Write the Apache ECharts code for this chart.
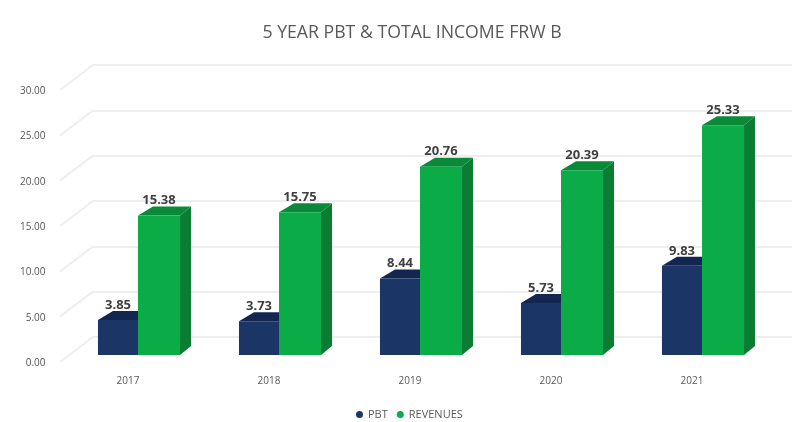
<!DOCTYPE html>
<html>
<head>
<meta charset="utf-8">
<style>html,body{margin:0;padding:0;background:#fff}#chart{width:792px;height:422px}</style>
<script src="https://cdn.jsdelivr.net/npm/echarts@6/dist/echarts.min.js"></script>
</head>
<body>
<div id="chart"></div>
<script>
const years = ['2017', '2018', '2019', '2020', '2021'];
const pbt = [3.85, 3.73, 8.44, 5.73, 9.83];
const revenues = [15.38, 15.75, 20.76, 20.39, 25.33];
const wallTicks = [0, 5, 10, 15, 20, 25, 30];

const FONT = '"Open Sans", "Liberation Sans", sans-serif';
const NAVY = { front: '#1b3567', top: '#12264f', side: '#12264f' };
const GREEN = { front: '#0bac48', top: '#0a8a38', side: '#0a7d33' };

// Draws one extruded column: front face, top face, right-hand side face and value label.
function column(palette, startFrac, endFrac) {
  return function (params, api) {
    const band = api.size([1, 0])[0];
    const value = api.value(1);
    const top = api.coord([api.value(0), value]);
    const base = api.coord([api.value(0), 0]);
    const centre = top[0] + band * 0.078;
    const x0 = centre + band * startFrac;
    const x1 = centre + band * endFrac;
    const y = top[1];
    const by = base[1];
    const dy = 9, dxTop = 15, dxSide = 11;
    return {
      type: 'group',
      children: [
        { type: 'polygon', shape: { points: [[x1, y], [x1 + dxSide, y - dy], [x1 + dxSide, by - dy], [x1, by]] }, style: { fill: palette.side } },
        { type: 'polygon', shape: { points: [[x0, y], [x0 + dxTop, y - dy], [x1 + dxSide, y - dy], [x1, y]] }, style: { fill: palette.top } },
        { type: 'rect', shape: { x: x0, y: y, width: x1 - x0, height: by - y }, style: { fill: palette.front } },
        {
          type: 'text', z2: 50,
          style: {
            x: (x0 + x1) / 2, y: y - 15, text: value.toFixed(2),
            textAlign: 'center', textVerticalAlign: 'middle',
            font: 'bold 13px ' + FONT, fill: '#404040'
          }
        }
      ]
    };
  };
}

// Short receding lines joining each back-wall gridline to the front plane.
function sideWallLine(params, api) {
  const p = api.coord([0, api.value(0)]);
  return {
    type: 'line',
    shape: { x1: p[0], y1: p[1], x2: p[0] - 33, y2: p[1] + 25 },
    style: { stroke: '#efefef', lineWidth: 2 }
  };
}

const chart = echarts.init(document.getElementById('chart'), null, { renderer: 'canvas' });
chart.setOption({
  animation: false,
  backgroundColor: '#ffffff',
  title: {
    text: '5 YEAR PBT & TOTAL INCOME FRW B',
    left: 407, top: 19, textAlign: 'center',
    textStyle: { color: '#595959', fontFamily: FONT, fontSize: 17.7, fontWeight: 'normal' }
  },
  legend: {
    data: ['PBT', 'REVENUES'],
    left: 351, top: 404,
    icon: 'circle', itemWidth: 7, itemHeight: 7, itemGap: 9,
    textStyle: { color: '#595959', fontFamily: FONT, fontSize: 11 }
  },
  // Back wall, front plane of the columns, and the band carrying the value scale.
  grid: [
    { left: 93, right: 0, top: 65, bottom: 85 },
    { left: 57.5, right: 29.5, top: 83, bottom: 67 },
    { left: 57.5, right: 29.5, top: 91, bottom: 59 }
  ],
  xAxis: [
    { gridIndex: 0, type: 'value', min: 0, max: 1, show: false },
    {
      gridIndex: 1, type: 'category', data: years,
      axisLine: { show: false }, axisTick: { show: false },
      axisLabel: { color: '#595959', fontFamily: FONT, fontSize: 10, margin: 21 }
    },
    { gridIndex: 2, type: 'value', min: 0, max: 1, show: false }
  ],
  yAxis: [
    {
      gridIndex: 0, type: 'value', min: 0, max: 30, interval: 5,
      axisLine: { show: false }, axisTick: { show: false }, axisLabel: { show: false },
      splitLine: { show: true, lineStyle: { color: '#eeeeee', width: 2 } }
    },
    {
      gridIndex: 1, type: 'value', min: 0, max: 30, interval: 5,
      axisLine: { show: false }, axisTick: { show: false }, splitLine: { show: false },
      axisLabel: { show: false }
    },
    {
      gridIndex: 2, type: 'value', min: 0, max: 30, interval: 5,
      axisLine: { show: false }, axisTick: { show: false }, splitLine: { show: false },
      axisLabel: {
        color: '#595959', fontFamily: FONT, fontSize: 10, margin: 12,
        formatter: function (v) { return v.toFixed(2); }
      }
    }
  ],
  series: [
    {
      name: 'wall', type: 'custom', xAxisIndex: 0, yAxisIndex: 0, silent: true, z: 1,
      data: wallTicks.map(function (t) { return [t]; }),
      encode: { y: 0 },
      renderItem: sideWallLine
    },
    {
      name: 'PBT', type: 'custom', xAxisIndex: 1, yAxisIndex: 1, z: 3,
      itemStyle: { color: NAVY.front },
      data: years.map(function (y, i) { return [i, pbt[i]]; }),
      encode: { x: 0, y: 1 },
      renderItem: column(NAVY, -0.291, -0.007)
    },
    {
      name: 'REVENUES', type: 'custom', xAxisIndex: 1, yAxisIndex: 1, z: 4,
      itemStyle: { color: GREEN.front },
      data: years.map(function (y, i) { return [i, revenues[i]]; }),
      encode: { x: 0, y: 1 },
      renderItem: column(GREEN, -0.007, 0.291)
    }
  ]
});
</script>
</body>
</html>
